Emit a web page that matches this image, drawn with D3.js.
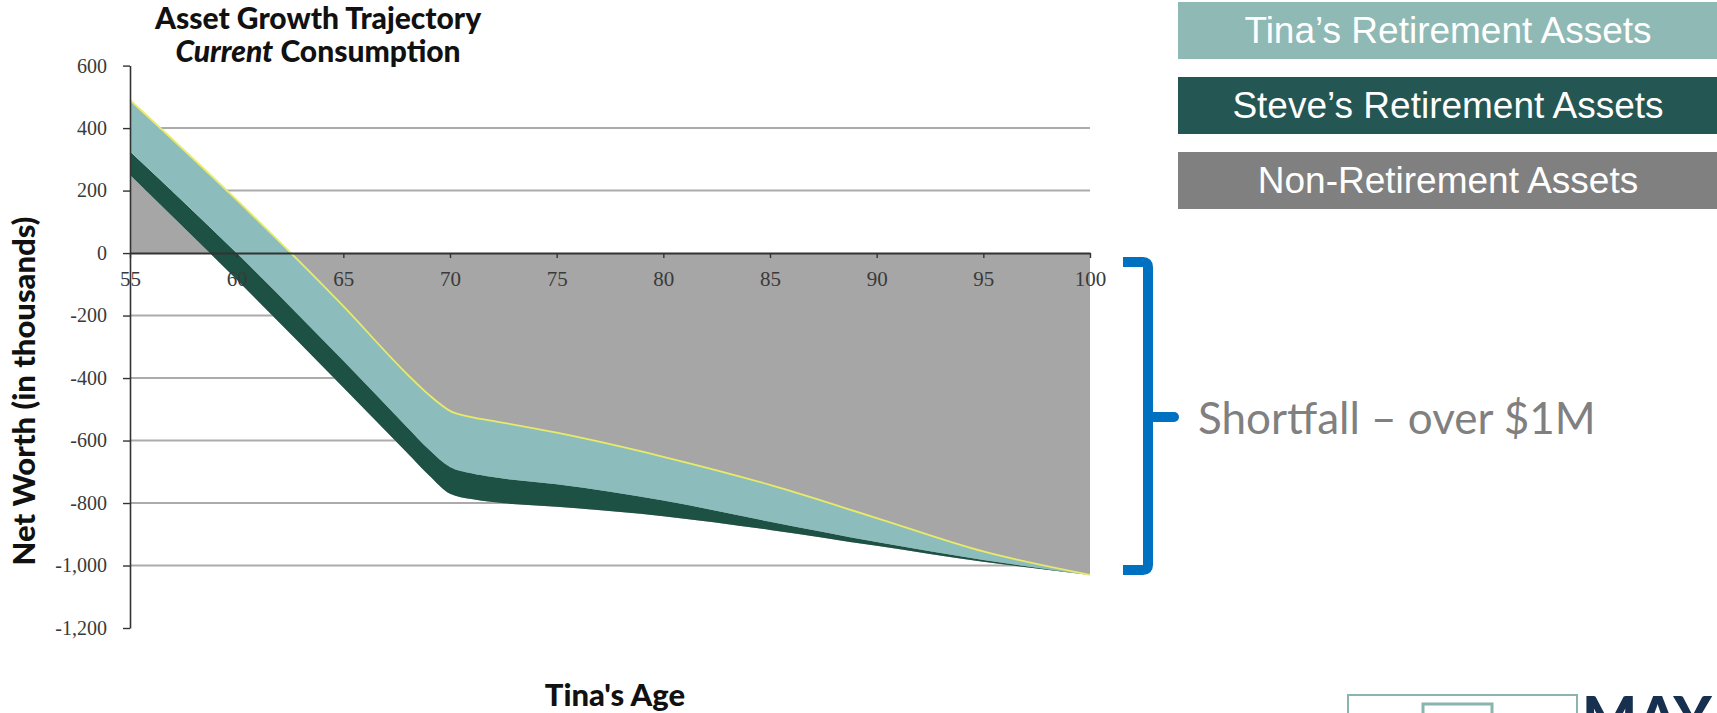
<!DOCTYPE html>
<html>
<head>
<meta charset="utf-8">
<script src="https://cdn.jsdelivr.net/npm/d3@7"></script>
<style>
  html, body { margin: 0; padding: 0; background: #ffffff; }
  svg { display: block; }
</style>
</head>
<body>
<svg id="chart" width="1717" height="713"></svg>
<script>
// Tina's age (years) at each plotted point
const ages = [55, 60, 65, 68, 69, 70, 71, 72, 75, 80, 85, 90, 95, 100];
// Net worth components, in thousands of dollars
const nonRetirement   = [250, -85, -430, -640, -710, -770, -787, -797, -812, -842, -886, -937, -988, -1030];
const steveRetirement = [75, 85, 85, 82, 82, 85, 82, 80, 72, 50, 26, 12, 6, 0];
const tinaRetirement  = [165, 170, 175, 170, 175, 180, 180, 180, 165, 140, 118, 77, 27, 0];

// Axis ticks
const ageTicks = [55, 60, 65, 70, 75, 80, 85, 90, 95, 100];
const worthTicks = [600, 400, 200, 0, -200, -400, -600, -800, -1000, -1200];
const gridValues = [400, 200, -200, -400, -600, -800, -1000];

// Legend entries
const legendLabels = ["Tina\u2019s Retirement Assets", "Steve\u2019s Retirement Assets", "Non-Retirement Assets"];
const legendColors = ["#8fb9b4", "#245654", "#808080"];

const seriesKeys = ["nonRetirement", "steveRetirement", "tinaRetirement"];
const areaColors = { nonRetirement: "#a6a6a6", steveRetirement: "#1c5143", tinaRetirement: "#8cbdbc" };

const rows = ages.map((a, i) => ({
  age: a,
  nonRetirement: nonRetirement[i],
  steveRetirement: steveRetirement[i],
  tinaRetirement: tinaRetirement[i]
}));

const svg = d3.select("#chart");

const x = d3.scaleLinear().domain([55, 100]).range([130, 1090]);
const y = d3.scaleLinear().domain([-1200, 600]).range([628, 65.6]);

const fmt = d3.formatLocale({ decimal: ".", thousands: ",", grouping: [3], currency: ["$", ""], minus: "-" }).format(",");

// Horizontal gridlines
svg.append("g")
  .selectAll("line")
  .data(gridValues)
  .join("line")
  .attr("x1", x(55)).attr("x2", x(100))
  .attr("y1", d => y(d)).attr("y2", d => y(d))
  .attr("stroke", "#ababab")
  .attr("stroke-width", 2);

// Stacked areas (sequential stacking, so negative non-retirement sits below zero)
const stacked = d3.stack().keys(seriesKeys).offset(d3.stackOffsetNone)(rows);

const area = d3.area()
  .curve(d3.curveMonotoneX)
  .x(d => x(d.data.age))
  .y0(d => y(d[0]))
  .y1(d => y(d[1]));

svg.append("g")
  .selectAll("path")
  .data(stacked)
  .join("path")
  .attr("d", area)
  .attr("fill", d => areaColors[d.key]);

// Thin highlight along total net worth
const totalLine = d3.line()
  .curve(d3.curveMonotoneX)
  .x(d => x(d.data.age))
  .y(d => y(d[1]));
svg.append("path")
  .attr("d", totalLine(stacked[2]))
  .attr("fill", "none")
  .attr("stroke", "#e9ea6a")
  .attr("stroke-width", 1.8);

// Y axis
const yAxis = svg.append("g")
  .attr("transform", `translate(${x(55)},0)`)
  .call(d3.axisLeft(y).tickValues(worthTicks).tickFormat(fmt).tickSize(7).tickSizeOuter(0).tickPadding(16));
yAxis.select(".domain").attr("stroke", "#333").attr("stroke-width", 1.6);
yAxis.selectAll(".tick line").attr("stroke", "#333").attr("stroke-width", 1.4);
yAxis.selectAll(".tick text")
  .attr("font-family", "'Liberation Serif', 'Times New Roman', serif")
  .attr("font-size", 20)
  .attr("fill", "#3a3a3a");

// X axis along zero
const xAxis = svg.append("g")
  .attr("transform", `translate(0,${y(0)})`)
  .call(d3.axisBottom(x).tickValues(ageTicks).tickSize(5).tickSizeOuter(0).tickPadding(13));
xAxis.select(".domain").attr("stroke", "#333").attr("stroke-width", 2);
xAxis.selectAll(".tick line").attr("stroke", "#333").attr("stroke-width", 1.4);
xAxis.selectAll(".tick text")
  .attr("font-family", "'Liberation Serif', 'Times New Roman', serif")
  .attr("font-size", 21)
  .attr("fill", "#3a3a3a");

// Titles
const titleFont = "Lato, 'Open Sans', sans-serif";
svg.append("text")
  .attr("x", 318).attr("y", 29)
  .attr("text-anchor", "middle")
  .attr("font-family", titleFont).attr("font-weight", 900).attr("font-size", 30)
  .attr("fill", "#111")
  .text("Asset Growth Trajectory");
const sub = svg.append("text")
  .attr("x", 318).attr("y", 62)
  .attr("text-anchor", "middle")
  .attr("font-family", titleFont).attr("font-weight", 900).attr("font-size", 30)
  .attr("fill", "#111");
sub.append("tspan").attr("font-style", "italic").text("Current");
sub.append("tspan").text(" Consumption");

svg.append("text")
  .attr("transform", "translate(35,391) rotate(-90)")
  .attr("text-anchor", "middle")
  .attr("font-family", titleFont).attr("font-weight", 900).attr("font-size", 31)
  .attr("fill", "#111")
  .text("Net Worth (in thousands)");

svg.append("text")
  .attr("x", 615).attr("y", 706)
  .attr("text-anchor", "middle")
  .attr("font-family", titleFont).attr("font-weight", 900).attr("font-size", 31)
  .attr("fill", "#111")
  .text("Tina's Age");

// Legend boxes
const legendTop = [2, 77, 152];
const legend = svg.append("g")
  .selectAll("g")
  .data(legendLabels)
  .join("g")
  .attr("transform", (d, i) => `translate(1178,${legendTop[i]})`);
legend.append("rect")
  .attr("width", 539).attr("height", 57)
  .attr("fill", (d, i) => legendColors[i]);
legend.append("text")
  .attr("x", 270).attr("y", 41)
  .attr("text-anchor", "middle")
  .attr("font-family", "'Liberation Sans', Arial, sans-serif")
  .attr("font-size", 37)
  .attr("fill", "#ffffff")
  .text(d => d);

// Shortfall bracket and label
const bracket = svg.append("g").attr("fill", "none").attr("stroke", "#0070c0").attr("stroke-width", 10);
bracket.append("path")
  .attr("d", "M1123,262 H1143 Q1148,262 1148,267 V565 Q1148,570 1143,570 H1123")
  .attr("stroke-linejoin", "round");
bracket.append("path")
  .attr("d", "M1148,417 H1174")
  .attr("stroke-linecap", "round");

svg.append("text")
  .attr("x", 1198).attr("y", 434)
  .attr("font-family", titleFont).attr("font-size", 44)
  .attr("fill", "#808080")
  .text("Shortfall \u2013 over $1M");

// Corner logo
const defs = svg.append("defs");
const grad = defs.append("linearGradient").attr("id", "ySplit").attr("x1", "0").attr("x2", "1").attr("y1", "0").attr("y2", "0");
grad.append("stop").attr("offset", "0.5").attr("stop-color", "#0a7fc6");
grad.append("stop").attr("offset", "0.5").attr("stop-color", "#17304f");

svg.append("rect")
  .attr("x", 1348).attr("y", 695).attr("width", 229).attr("height", 40)
  .attr("fill", "none").attr("stroke", "#8ab4ae").attr("stroke-width", 2);
svg.append("rect")
  .attr("x", 1423).attr("y", 704).attr("width", 69).attr("height", 30)
  .attr("fill", "none").attr("stroke", "#8ab4ae").attr("stroke-width", 3);
const logo = svg.append("text")
  .attr("x", 1582).attr("y", 738)
  .attr("font-family", titleFont).attr("font-weight", 900).attr("font-size", 58)
  .attr("fill", "#17304f");
logo.append("tspan").text("MA");
logo.append("tspan").attr("fill", "url(#ySplit)").text("Y");
</script>
</body>
</html>
